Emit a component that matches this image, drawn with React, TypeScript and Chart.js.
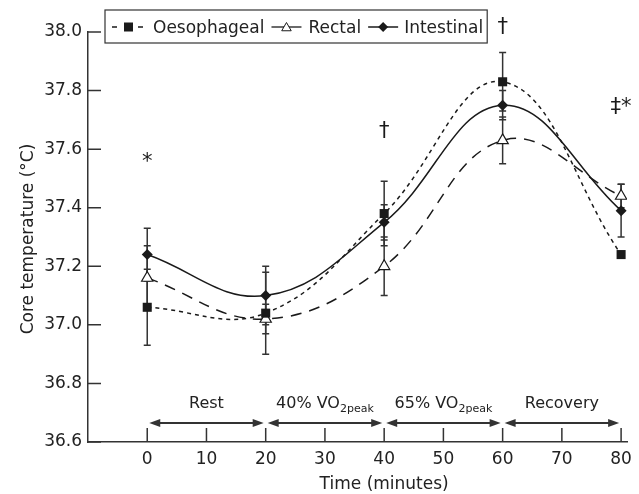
import React, { useEffect, useRef } from "react";
import { Chart, registerables } from "chart.js";

Chart.register(...registerables);

const times = [0, 20, 40, 60, 80];
const oesophageal = [37.06, 37.04, 37.38, 37.83, 37.24];
const oesophagealErr = [0.13, 0.14, 0.11, 0.1, 0.0];
const rectal = [37.16, 37.02, 37.2, 37.63, 37.44];
const rectalErr = [0.11, 0.05, 0.1, 0.08, 0.04];
const intestinal = [37.24, 37.1, 37.35, 37.75, 37.39];
const intestinalErr = [0.09, 0.1, 0.06, 0.05, 0.09];

const xTicks = [0, 10, 20, 30, 40, 50, 60, 70, 80];
const yTicks = [36.6, 36.8, 37.0, 37.2, 37.4, 37.6, 37.8, 38.0];

const phaseStart = [0, 20, 40, 60];
const phaseEnd = [20, 40, 60, 80];
const phaseLabel = ["Rest", "40% VO", "65% VO", "Recovery"];
const phaseSub = ["", "2peak", "2peak", ""];

const annotX = [0, 40, 60, 80];
const annotY = [37.535, 37.64, 37.997, 37.725];
const annotText = ["*", "\u2020", "\u2020", "\u2021*"];

const xTitle = "Time (minutes)";
const yTitle = "Core temperature (\u00B0C)";
const seriesNames = ["Oesophageal", "Rectal", "Intestinal"];

const FONT = "'DejaVu Sans', sans-serif";
const INK = "#1a1a1a";
const AXIS = "#333";

function drawTriangle(ctx: CanvasRenderingContext2D, cx: number, cy: number, r: number) {
  ctx.beginPath();
  ctx.moveTo(cx, cy - r);
  ctx.lineTo(cx + r * 0.866, cy + r * 0.5);
  ctx.lineTo(cx - r * 0.866, cy + r * 0.5);
  ctx.closePath();
  ctx.fillStyle = "#fff";
  ctx.fill();
  ctx.strokeStyle = INK;
  ctx.lineWidth = 1;
  ctx.stroke();
}

function drawDiamond(ctx: CanvasRenderingContext2D, cx: number, cy: number, r: number) {
  ctx.beginPath();
  ctx.moveTo(cx, cy - r);
  ctx.lineTo(cx + r, cy);
  ctx.lineTo(cx, cy + r);
  ctx.lineTo(cx - r, cy);
  ctx.closePath();
  ctx.fillStyle = INK;
  ctx.fill();
}

const errorBarPlugin = {
  id: "errorBars",
  beforeDatasetsDraw(chart: any) {
    const { ctx, scales } = chart;
    const xs = scales.x;
    const ys = scales.y;
    const sets = [
      [oesophageal, oesophagealErr],
      [rectal, rectalErr],
      [intestinal, intestinalErr],
    ];
    ctx.save();
    ctx.strokeStyle = AXIS;
    ctx.lineWidth = 1.5;
    sets.forEach(([vals, errs]) => {
      times.forEach((t, i) => {
        const e = errs[i];
        if (!e) return;
        const px = xs.getPixelForValue(t);
        const top = ys.getPixelForValue(vals[i] + e);
        const bot = ys.getPixelForValue(vals[i] - e);
        ctx.beginPath();
        ctx.moveTo(px, top);
        ctx.lineTo(px, bot);
        ctx.moveTo(px - 3.5, top);
        ctx.lineTo(px + 3.5, top);
        ctx.moveTo(px - 3.5, bot);
        ctx.lineTo(px + 3.5, bot);
        ctx.stroke();
      });
    });
    ctx.restore();
  },
};

const decorPlugin = {
  id: "decor",
  afterDraw(chart: any) {
    const { ctx, scales, chartArea } = chart;
    const xs = scales.x;
    const ys = scales.y;
    ctx.save();

    // inward ticks
    ctx.strokeStyle = AXIS;
    ctx.lineWidth = 1.5;
    ctx.beginPath();
    xTicks.forEach((v) => {
      const px = xs.getPixelForValue(v);
      ctx.moveTo(px, chartArea.bottom);
      ctx.lineTo(px, chartArea.bottom - 14);
    });
    yTicks.forEach((v) => {
      const py = ys.getPixelForValue(v);
      ctx.moveTo(chartArea.left, py);
      ctx.lineTo(chartArea.left + 13, py);
    });
    ctx.stroke();

    // phase arrows
    const ay = chartArea.bottom - 19;
    ctx.fillStyle = AXIS;
    ctx.lineWidth = 2;
    phaseStart.forEach((s, i) => {
      const x1 = xs.getPixelForValue(s) + 2;
      const x2 = xs.getPixelForValue(phaseEnd[i]) - 2;
      ctx.beginPath();
      ctx.moveTo(x1 + 6, ay);
      ctx.lineTo(x2 - 6, ay);
      ctx.stroke();
      ctx.beginPath();
      ctx.moveTo(x1, ay);
      ctx.lineTo(x1 + 11, ay - 4);
      ctx.lineTo(x1 + 11, ay + 4);
      ctx.closePath();
      ctx.fill();
      ctx.beginPath();
      ctx.moveTo(x2, ay);
      ctx.lineTo(x2 - 11, ay - 4);
      ctx.lineTo(x2 - 11, ay + 4);
      ctx.closePath();
      ctx.fill();
    });

    // phase labels
    const ly = chartArea.bottom - 34;
    ctx.fillStyle = "#222";
    ctx.textBaseline = "alphabetic";
    ctx.textAlign = "left";
    phaseStart.forEach((s, i) => {
      const mid = xs.getPixelForValue((s + phaseEnd[i]) / 2);
      ctx.font = `16px ${FONT}`;
      const w1 = ctx.measureText(phaseLabel[i]).width;
      ctx.font = `11px ${FONT}`;
      const w2 = phaseSub[i] ? ctx.measureText(phaseSub[i]).width : 0;
      const x0 = mid - (w1 + w2) / 2;
      ctx.font = `16px ${FONT}`;
      ctx.fillText(phaseLabel[i], x0, ly);
      if (phaseSub[i]) {
        ctx.font = `11px ${FONT}`;
        ctx.fillText(phaseSub[i], x0 + w1, ly + 4);
      }
    });

    // significance annotations
    ctx.font = `21px ${FONT}`;
    ctx.textAlign = "center";
    ctx.fillStyle = INK;
    annotX.forEach((x, i) => {
      ctx.fillText(annotText[i], xs.getPixelForValue(x), ys.getPixelForValue(annotY[i]));
    });

    // axis titles
    ctx.font = `17px ${FONT}`;
    ctx.fillStyle = "#222";
    ctx.textAlign = "center";
    ctx.fillText(xTitle, xs.getPixelForValue(40), 489);
    ctx.save();
    ctx.translate(33, (chartArea.top + chartArea.bottom) / 2 + 2);
    ctx.rotate(-Math.PI / 2);
    ctx.fillText(yTitle, 0, 0);
    ctx.restore();

    // legend
    const bx = chartArea.left + 17;
    const by = 10;
    const bh = 33;
    const cy = by + bh / 2 + 0.5;
    const tb = by + 23;
    ctx.font = `17px ${FONT}`;
    ctx.textAlign = "left";
    const widths = seriesNames.map((n) => ctx.measureText(n).width);
    let x = bx + 7;
    const pieces: Array<() => void> = [];
    const ox = x;
    pieces.push(() => {
      ctx.strokeStyle = INK;
      ctx.lineWidth = 1.5;
      ctx.beginPath();
      ctx.moveTo(ox, cy);
      ctx.lineTo(ox + 5, cy);
      ctx.moveTo(ox + 26, cy);
      ctx.lineTo(ox + 31, cy);
      ctx.stroke();
      ctx.fillStyle = INK;
      ctx.fillRect(ox + 12, cy - 4.5, 9, 9);
    });
    x += 31 + 10;
    const t0 = x;
    x += widths[0] + 7;
    const rx = x;
    pieces.push(() => {
      ctx.strokeStyle = INK;
      ctx.lineWidth = 1.3;
      ctx.beginPath();
      ctx.moveTo(rx, cy);
      ctx.lineTo(rx + 30, cy);
      ctx.stroke();
      drawTriangle(ctx, rx + 15, cy + 1, 5.5);
    });
    x += 30 + 7;
    const t1 = x;
    x += widths[1] + 7;
    const ix = x;
    pieces.push(() => {
      ctx.strokeStyle = INK;
      ctx.lineWidth = 1.5;
      ctx.beginPath();
      ctx.moveTo(ix, cy);
      ctx.lineTo(ix + 30, cy);
      ctx.stroke();
      drawDiamond(ctx, ix + 15, cy, 5);
    });
    x += 30 + 6;
    const t2 = x;
    x += widths[2] + 4;
    const bw = x - bx;
    ctx.fillStyle = "#fff";
    ctx.fillRect(bx, by, bw, bh);
    ctx.strokeStyle = AXIS;
    ctx.lineWidth = 1.2;
    ctx.strokeRect(bx, by, bw, bh);
    pieces.forEach((p) => p());
    ctx.fillStyle = "#222";
    ctx.font = `17px ${FONT}`;
    ctx.fillText(seriesNames[0], t0, tb);
    ctx.fillText(seriesNames[1], t1, tb);
    ctx.fillText(seriesNames[2], t2, tb);

    ctx.restore();
  },
};

export default function App() {
  const ref = useRef<HTMLCanvasElement>(null);

  useEffect(() => {
    if (!ref.current) return;
    const mk = (arr: number[]) => times.map((t, i) => ({ x: t, y: arr[i] }));
    const chart = new Chart(ref.current, {
      type: "line",
      data: {
        datasets: [
          {
            label: seriesNames[0],
            data: mk(oesophageal),
            borderColor: INK,
            borderWidth: 1.5,
            borderDash: [4, 4],
            pointStyle: "rect",
            pointRadius: 6.4,
            pointBackgroundColor: INK,
            pointBorderColor: INK,
            pointBorderWidth: 0,
            tension: 0.4,
            fill: false,
          },
          {
            label: seriesNames[1],
            data: mk(rectal),
            borderColor: INK,
            borderWidth: 1.5,
            borderDash: [11, 8],
            pointStyle: "triangle",
            pointRadius: 6.5,
            pointBackgroundColor: "#fff",
            pointBorderColor: INK,
            pointBorderWidth: 1.2,
            tension: 0.4,
            fill: false,
          },
          {
            label: seriesNames[2],
            data: mk(intestinal),
            borderColor: INK,
            borderWidth: 1.5,
            pointStyle: "rectRot",
            pointRadius: 5.5,
            pointBackgroundColor: INK,
            pointBorderColor: INK,
            pointBorderWidth: 0,
            tension: 0.4,
            fill: false,
          },
        ],
      },
      options: {
        responsive: false,
        animation: false,
        events: [],
        layout: { padding: { left: 0, top: 32, right: 6, bottom: 0 } },
        plugins: { legend: { display: false }, tooltip: { enabled: false } },
        scales: {
          x: {
            type: "linear",
            min: -10,
            max: 81,
            afterBuildTicks: (s: any) => {
              s.ticks = xTicks.map((v) => ({ value: v }));
            },
            afterFit: (s: any) => {
              s.height = 52;
            },
            grid: { display: false, drawTicks: false },
            border: { display: true, color: AXIS, width: 1.5 },
            ticks: { padding: 7, color: "#222", font: { family: FONT, size: 17 }, maxRotation: 0, autoSkip: false },
          },
          y: {
            type: "linear",
            min: 36.6,
            max: 38.0,
            afterBuildTicks: (s: any) => {
              s.ticks = yTicks.map((v) => ({ value: v }));
            },
            afterFit: (s: any) => {
              s.width = 88;
            },
            grid: { display: false, drawTicks: false },
            border: { display: true, color: AXIS, width: 1.5 },
            ticks: {
              padding: 6,
              color: "#222",
              font: { family: FONT, size: 17 },
              autoSkip: false,
              callback: (v: any) => Number(v).toFixed(1),
            },
          },
        },
      },
      plugins: [errorBarPlugin, decorPlugin],
    });
    return () => chart.destroy();
  }, []);

  return (
    <div style={{ position: "absolute", left: 0, top: 0, width: 639, height: 494, background: "#fff" }}>
      <canvas ref={ref} width={639} height={494} style={{ display: "block" }} />
    </div>
  );
}
